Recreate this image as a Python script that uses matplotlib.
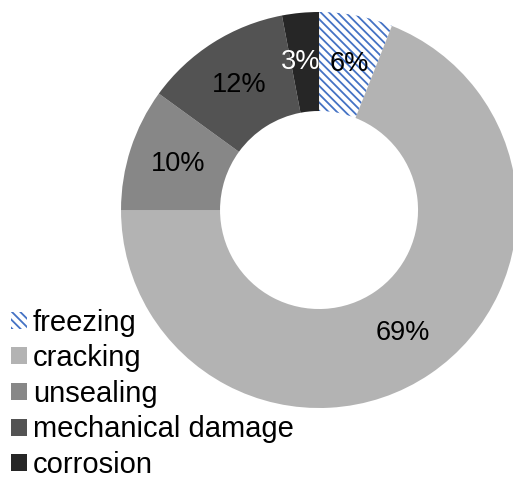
import matplotlib
matplotlib.use("Agg")
import matplotlib.pyplot as plt

# failure causes and their shares (%)
causes = ["freezing", "cracking", "unsealing", "mechanical damage", "corrosion"]
shares = [6, 69, 10, 12, 3]
fills = ["white", "#b3b3b3", "#878787", "#535353", "#262626"]
label_colors = ["black", "black", "black", "black", "white"]

plt.rcParams["font.family"] = ["Liberation Sans", "DejaVu Sans"]
plt.rcParams["hatch.linewidth"] = 1.3

fig = plt.figure(figsize=(5.13, 4.82), dpi=100)
ax = fig.add_axes([0.2359, 0.1535, 0.772, 0.8216])

wedges, texts, autotexts = ax.pie(
    shares,
    colors=fills,
    startangle=90,
    counterclock=False,
    radius=1.0,
    autopct="%d%%",
    pctdistance=0.75,
    wedgeprops=dict(width=0.5, linewidth=0),
    textprops=dict(fontsize=19.5),
)
ax.set_xlim(-1, 1)
ax.set_ylim(-1, 1)

# diagonal-line fill for the first slice
wedges[0].set_edgecolor("#4472c4")
wedges[0].set_hatch("\\" * 4)

for t, c in zip(autotexts, label_colors):
    t.set_color(c)
# keep the two narrow-slice labels apart
x4, y4 = autotexts[4].get_position()
autotexts[4].set_position((x4 - 0.02, y4))
x0, y0 = autotexts[0].get_position()
autotexts[0].set_position((x0 + 0.01, y0))

fig.legend(
    wedges,
    causes,
    loc="lower left",
    bbox_to_anchor=(-0.012, -0.03),
    frameon=False,
    fontsize=21,
    handlelength=0.52,
    handleheight=0.52,
    handletextpad=0.22,
    labelspacing=0.26,
    borderaxespad=0.2,
)

fig.savefig("out.png", dpi=100)
